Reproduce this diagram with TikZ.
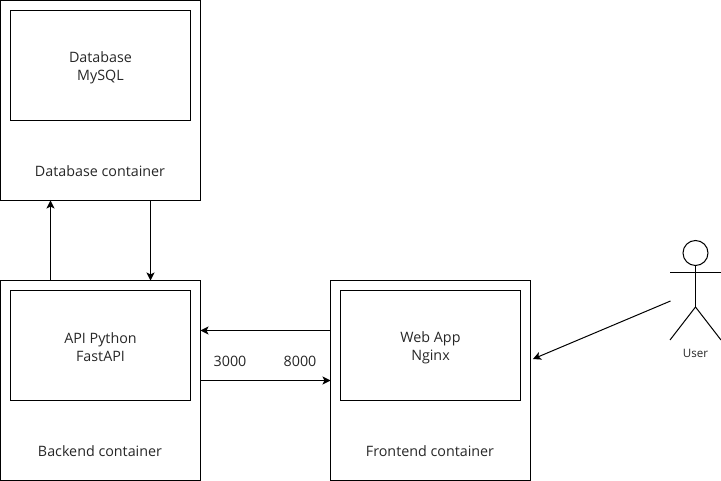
\documentclass[tikz,border=0pt]{standalone}
\usepackage{fontspec}
\setmainfont{Open Sans}
\usetikzlibrary{arrows.meta,calc}
\tikzset{
  outerbox/.style={draw=black,line width=1pt,minimum width=200pt,minimum height=200pt,inner sep=0pt,outer sep=0pt,anchor=north west},
  innerbox/.style={draw=black,line width=1pt,minimum width=180pt,minimum height=110pt,inner sep=0pt,outer sep=0pt,anchor=north west},
  lbl/.style={inner sep=0pt,align=center,font=\fontsize{14.3}{18}\selectfont,text=black!85,anchor=center},
  small/.style={inner sep=0pt,font=\fontsize{11.6}{14}\selectfont,text=black!85,anchor=center},
  conn/.style={draw=black,line width=1pt,-{Stealth[length=8pt,width=8pt,inset=2pt]}},
  stick/.style={draw=black,line width=1pt}
}
\begin{document}
\begin{tikzpicture}[x=1pt,y=-1pt]
\useasboundingbox (0,0) rectangle (721,481);
\node[outerbox] (db) at (0.5,0.5) {};
\node[innerbox] (dbin) at (10.5,10.5) {};
\node[lbl] (dbtext) at (100.5,67.5) {Database\\MySQL};
\node[lbl] (dblbl) at (100,171) {Database container};
\node[outerbox] (be) at (0.5,280.5) {};
\node[innerbox] (bein) at (10.5,290.5) {};
\node[lbl] (betext) at (100.5,347.5) {API Python\\FastAPI};
\node[lbl] (belbl) at (100,451) {Backend container};
\node[outerbox] (fe) at (330.5,280.5) {};
\node[innerbox] (fein) at (340.5,290.5) {};
\node[lbl] (fetext) at (430.5,347.5) {Web App\\Nginx};
\node[lbl] (felbl) at (430,451) {Frontend container};
\node[lbl] (p3000) at (230,361) {3000};
\node[lbl] (p8000) at (300,361) {8000};
\draw[conn] ($(be.north west)+(50,0)$) -- ($(db.south west)+(50,0)$);
\draw[conn] ($(db.south west)+(150,0)$) -- ($(be.north west)+(150,0)$);
\draw[conn] ($(fe.north west)+(0,50)$) -- ($(be.north east)+(0,50)$);
\draw[conn] ($(be.north east)+(0,100)$) -- ($(fe.north west)+(0,100)$);
% actor
\node[draw=black,line width=1pt,circle,minimum size=25pt,inner sep=0pt,outer sep=0pt] (head) at (695.5,253) {};
\coordinate (hip) at (695.5,307);
\coordinate (armL) at (670,273);
\coordinate (armR) at (721,273);
\coordinate (legL) at (670,340);
\coordinate (legR) at (721,340);
\draw[stick] (head.south) -- (hip);
\draw[stick] (armL) -- (armR);
\draw[stick] (legL) -- (hip) -- (legR);
\node[small] (user) at (695.5,353) {User};
\coordinate (userEnd) at (670.5,301);
\coordinate (feEnd) at (533,359);
\draw[conn] (userEnd) -- (feEnd);
\end{tikzpicture}
\end{document}
